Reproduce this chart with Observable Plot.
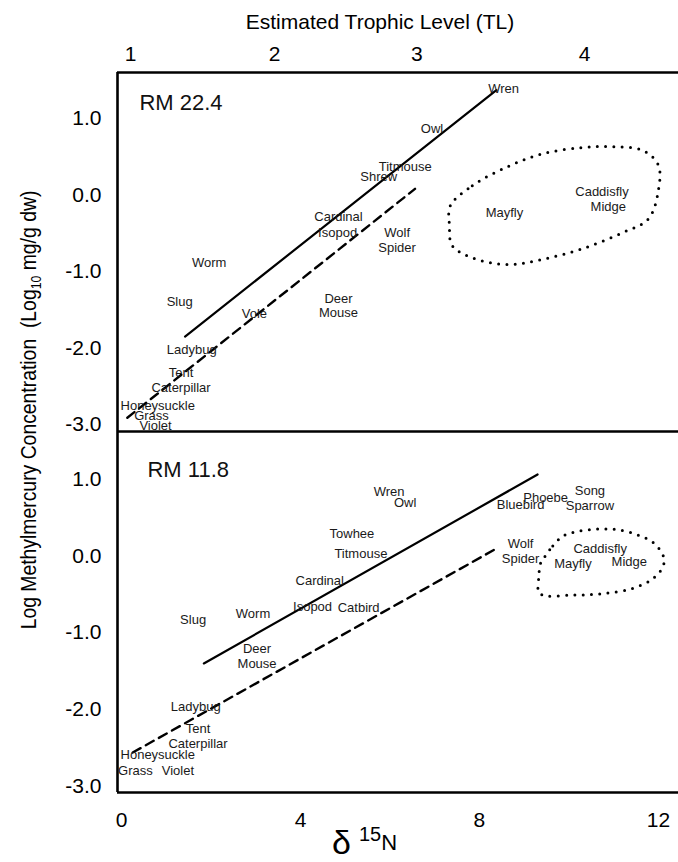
<!DOCTYPE html>
<html><head><meta charset="utf-8">
<script src="https://cdn.jsdelivr.net/npm/d3@7"></script>
<script src="https://cdn.jsdelivr.net/npm/@observablehq/plot@0.6"></script>
<style>
body{margin:0;background:#fff;font-family:"Liberation Sans",Arial,sans-serif;}
#wrap{position:relative;width:678px;height:862px;overflow:hidden;background:#fff;}
.abs{position:absolute;left:0;}
</style></head><body><div id="wrap"></div>
<script>
// ---------- axes ----------
const xTicks = [0, 4, 8, 12];
const yTicks = [-3, -2, -1, 0, 1];
const tlPositions = [0.2, 3.42, 6.6, 10.35];   // δ15N positions of trophic-level labels
const tlLabels = ["1", "2", "3", "4"];

// ---------- RM 22.4 (top panel) ----------
const topLabels = ["Wren","Owl","Titmouse","Shrew","Cardinal","Isopod","Wolf\nSpider","Worm","Slug","Vole","Deer\nMouse","Ladybug","Tent\nCaterpillar","Honeysuckle","Grass","Violet","Mayfly","Caddisfly","Midge"];
const topD15N    = [8.54, 6.94, 6.34, 5.75, 4.85, 4.83, 6.16, 1.96, 1.30, 2.97, 4.85, 1.57, 1.33, 0.81, 0.67, 0.76, 8.56, 10.74, 10.88];
const topLogMeHg = [1.39, 0.87, 0.37, 0.24, -0.28, -0.48, -0.58, -0.88, -1.39, -1.55, -1.44, -2.01, -2.41, -2.75, -2.88, -3.01, -0.23, 0.05, -0.15];
const topSolidX = [1.42, 8.38], topSolidY = [-1.85, 1.37];
const topDashX  = [0.13, 6.56], topDashY  = [-2.91, 0.08];
const topDotX = [7.35, 7.84, 8.63, 9.42, 10.31, 10.99, 11.66, 12.00, 12.00, 11.78, 11.21, 10.31, 9.42, 8.63, 7.84, 7.39, 7.33];
const topDotY = [-0.14, 0.12, 0.37, 0.54, 0.62, 0.63, 0.58, 0.39, 0.06, -0.31, -0.49, -0.70, -0.84, -0.91, -0.82, -0.66, -0.40];

// ---------- RM 11.8 (bottom panel) ----------
const botLabels = ["Wren","Owl","Phoebe","Bluebird","Song\nSparrow","Wolf\nSpider","Caddisfly","Midge","Mayfly","Towhee","Titmouse","Cardinal","Isopod","Catbird","Worm","Slug","Deer\nMouse","Ladybug","Tent\nCaterpillar","Honeysuckle","Grass","Violet"];
const botD15N    = [5.98, 6.34, 9.48, 8.92, 10.47, 8.92, 10.70, 11.35, 10.09, 5.15, 5.35, 4.43, 4.27, 5.30, 2.94, 1.60, 3.03, 1.66, 1.71, 0.81, 0.31, 1.26];
const botLogMeHg = [0.84, 0.70, 0.77, 0.67, 0.76, 0.07, 0.10, -0.07, -0.09, 0.30, 0.04, -0.31, -0.66, -0.67, -0.74, -0.82, -1.30, -1.96, -2.34, -2.58, -2.79, -2.79];
const botSolidX = [1.84, 9.30], botSolidY = [-1.40, 1.06];
const botDashX  = [0.25, 8.36], botDashY  = [-2.56, 0.09];
const botDotX = [9.46, 9.64, 9.87, 10.20, 10.65, 11.10, 11.55, 11.89, 12.11, 12.11, 11.89, 11.44, 10.76, 10.09, 9.35, 9.33, 9.37];
const botDotY = [-0.01, 0.13, 0.26, 0.32, 0.35, 0.34, 0.27, 0.17, 0.00, -0.13, -0.29, -0.42, -0.49, -0.51, -0.49, -0.26, -0.09];

const sites = ["RM 22.4", "RM 11.8"];
const siteX = [0.40, 0.58], siteY = [1.20, 1.12];

// ---------- layout ----------
const W = 678;
const xDomain = [-0.09, 12.45];
const FONT = "'Liberation Sans', Arial, Helvetica, sans-serif";
const wrap = document.getElementById("wrap");

function zip(xs, ys, extra) { return xs.map((x, i) => ({x, y: ys[i], t: extra ? extra[i] : null})); }

function panel(opts) {
  const {labels, xs, ys, solidX, solidY, dashX, dashY, dotX, dotY, site, sx, sy, yDomain, top, height, mt, mb} = opts;
  const marks = [
    Plot.ruleX([xDomain[0]], {stroke: "#000", strokeWidth: 2.6}),
    Plot.ruleY([yDomain[0]], {stroke: "#000", strokeWidth: 2.6}),
    Plot.line(zip(solidX, solidY), {x: "x", y: "y", stroke: "#000", strokeWidth: 2.2}),
    Plot.line(zip(dashX, dashY), {x: "x", y: "y", stroke: "#000", strokeWidth: 2.4, strokeDasharray: "9,6"}),
    Plot.line(zip(dotX, dotY), {x: "x", y: "y", curve: "catmull-rom-closed", stroke: "#000", strokeWidth: 3, strokeDasharray: "0,8.3", strokeLinecap: "round"}),
    Plot.text(zip(xs, ys, labels), {x: "x", y: "y", text: "t", fontSize: 13, fill: "#1a1a1a", lineHeight: 1.15}),
    Plot.text([site], {x: sx, y: sy, text: d => d, textAnchor: "start", fontSize: 22, fill: "#111"}),
    Plot.axisY({ticks: yTicks, tickFormat: d => d.toFixed(1), tickSize: 0, tickPadding: 16, fontSize: 21, label: null, fill: "#000"})
  ];
  if (top) {
    marks.push(Plot.ruleY([yDomain[1]], {stroke: "#000", strokeWidth: 2.6}));
    const tlMap = new Map(tlPositions.map((p, i) => [p, tlLabels[i]]));
    marks.push(Plot.axisX({anchor: "top", ticks: tlPositions, tickFormat: d => tlMap.get(d), tickSize: 0, tickPadding: 12, fontSize: 21, label: null}));
  } else {
    marks.push(Plot.axisX({anchor: "bottom", ticks: xTicks, tickFormat: d => String(d), tickSize: 0, tickPadding: 20, fontSize: 21, label: null}));
  }
  return Plot.plot({
    width: W, height,
    marginLeft: 117, marginRight: 0, marginTop: mt, marginBottom: mb,
    x: {domain: xDomain, axis: null},
    y: {domain: yDomain, axis: null},
    style: {fontFamily: FONT, color: "#000", background: "transparent", overflow: "visible"},
    marks
  });
}

const topPlot = panel({labels: topLabels, xs: topD15N, ys: topLogMeHg, solidX: topSolidX, solidY: topSolidY, dashX: topDashX, dashY: topDashY, dotX: topDotX, dotY: topDotY, site: sites[0], sx: siteX[0], sy: siteY[0], yDomain: [-3.09, 1.6], top: true, height: 433, mt: 72, mb: 2});
const botPlot = panel({labels: botLabels, xs: botD15N, ys: botLogMeHg, solidX: botSolidX, solidY: botSolidY, dashX: botDashX, dashY: botDashY, dotX: botDotX, dotY: botDotY, site: sites[1], sx: siteX[1], sy: siteY[1], yDomain: [-3.08, 1.62], top: false, height: 431, mt: 0, mb: 70});

const d1 = document.createElement("div"); d1.className = "abs"; d1.style.top = "0px"; d1.appendChild(topPlot);
const d2 = document.createElement("div"); d2.className = "abs"; d2.style.top = "431px"; d2.appendChild(botPlot);
wrap.appendChild(d2); wrap.appendChild(d1);

// ---------- titles ----------
const ns = "http://www.w3.org/2000/svg";
const ov = document.createElementNS(ns, "svg");
ov.setAttribute("width", W); ov.setAttribute("height", 862);
ov.setAttribute("class", "abs"); ov.style.top = "0px"; ov.style.pointerEvents = "none";
ov.style.fontFamily = FONT;
ov.innerHTML = `
  <text x="380" y="29" text-anchor="middle" font-size="21" fill="#000">Estimated Trophic Level (TL)</text>
  <g transform="translate(36,410) rotate(-90) scale(0.88,1)">
    <text x="0" y="0" text-anchor="middle" font-size="22" fill="#000">Log Methylmercury Concentration&#160; (Log<tspan font-size="14" dy="5">10</tspan><tspan dy="-5"> mg/g dw)</tspan></text>
  </g>
  <text x="332" y="854" font-size="34" fill="#000">δ<tspan dx="8" dy="-13" font-size="20">15</tspan><tspan dy="9" font-size="22">N</tspan></text>
`;
wrap.appendChild(ov);
</script></body></html>
